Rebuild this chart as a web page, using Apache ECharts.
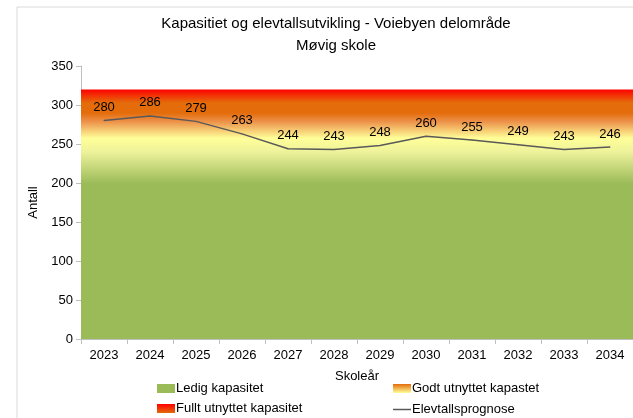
<!DOCTYPE html>
<html>
<head>
<meta charset="utf-8">
<script src="https://cdn.jsdelivr.net/npm/echarts@6/dist/echarts.min.js"></script>
<style>
  html, body { margin: 0; padding: 0; background: #fff; }
  #chart { width: 633px; height: 418px; }
</style>
</head>
<body>
<div id="chart"></div>
<script>
const years = ['2023', '2024', '2025', '2026', '2027', '2028', '2029', '2030', '2031', '2032', '2033', '2034']
const prognose = [280, 286, 279, 263, 244, 243, 248, 260, 255, 249, 243, 246]
// capacity bands: bottom and top of each band
const bandX = [0, 1]
const bandNames = ['Ledig kapasitet', 'Godt utnyttet kapastet', 'Fullt utnyttet kapasitet']
const bandBottom = [0, 200, 290]
const bandTop = [200, 290, 320]

const font = 'Liberation Sans'
const green = '#9bbb59'

const godtGrad = new echarts.graphic.LinearGradient(0, 0, 0, 1, [
  { offset: 0, color: '#e46c0a' },
  { offset: 0.12, color: '#ec9048' },
  { offset: 0.36, color: '#ffff99' },
  { offset: 0.55, color: '#eef29a' },
  { offset: 1, color: green }
])
const fulltGrad = new echarts.graphic.LinearGradient(0, 0, 0, 1, [
  { offset: 0, color: '#ff0000' },
  { offset: 0.55, color: '#e46c0a' },
  { offset: 1, color: '#e46c0a' }
])
const bandColors = [green, godtGrad, fulltGrad]

const legGodt = new echarts.graphic.LinearGradient(0, 0, 0, 1, [
  { offset: 0, color: '#e46c0a' },
  { offset: 1, color: '#ffff99' }
])
const legFullt = new echarts.graphic.LinearGradient(0, 0, 0, 1, [
  { offset: 0, color: '#ff0000' },
  { offset: 1, color: '#e46c0a' }
])

// upper bands reach 1 unit under the band below so no seam shows between them
const bandSeries = bandNames.map((name, i) => ({
  name: name,
  type: 'line',
  xAxisIndex: 1,
  data: bandX.map(x => [x, bandTop[i]]),
  symbol: 'none',
  lineStyle: { width: 0 },
  itemStyle: { color: bandColors[i] },
  areaStyle: { color: bandColors[i], opacity: 1, origin: i ? bandBottom[i] - 1 : 0 },
  silent: true,
  z: 4 - i
}))

const legendText = { fontFamily: font, fontSize: 13, color: '#000', padding: [0, 0, 0, -4] }
const oneLegend = (left, top, item, h) => ({
  left: left,
  top: top,
  itemWidth: 18,
  itemHeight: h || 9,
  textStyle: legendText,
  selectedMode: false,
  data: [item]
})

const chart = echarts.init(document.getElementById('chart'))
chart.setOption({
  animation: false,
  textStyle: { fontFamily: font },
  graphic: [{
    type: 'rect',
    shape: { x: 17, y: 7, width: 640, height: 430 },
    style: { fill: 'none', stroke: '#d9d9d9', lineWidth: 1 },
    silent: true
  }],
  title: {
    text: 'Kapasitiet og elevtallsutvikling - Voiebyen delområde\nMøvig skole',
    left: 331,
    textAlign: 'center',
    top: 8,
    textStyle: { fontFamily: font, fontSize: 15, fontWeight: 'normal', color: '#000', lineHeight: 22 }
  },
  legend: [
    oneLegend(152, 377, { name: 'Ledig kapasitet', icon: 'rect', itemStyle: { color: green } }),
    oneLegend(152, 397, { name: 'Fullt utnyttet kapasitet', icon: 'rect', itemStyle: { color: legFullt } }),
    oneLegend(388, 377, { name: 'Godt utnyttet kapastet', icon: 'rect', itemStyle: { color: legGodt } }),
    oneLegend(388, 398, { name: 'Elevtallsprognose', icon: 'rect', itemStyle: { color: '#595959' } }, 1.5)
  ],
  grid: { left: 81, top: 66, width: 568, height: 273 },
  xAxis: [{
    type: 'category',
    data: years,
    name: 'Skoleår',
    nameLocation: 'middle',
    nameGap: 31,
    nameTextStyle: { fontFamily: font, fontSize: 13, color: '#000' },
    axisLine: { lineStyle: { color: '#bfbfbf' } },
    axisTick: { show: true, length: 5, lineStyle: { color: '#bfbfbf' } },
    axisLabel: { fontFamily: font, fontSize: 13, color: '#000', margin: 10 }
  }, {
    type: 'value',
    min: 0,
    max: 1,
    show: false
  }],
  yAxis: {
    type: 'value',
    min: 0,
    max: 350,
    interval: 50,
    name: 'Antall',
    nameLocation: 'middle',
    nameGap: 36,
    nameTextStyle: { fontFamily: font, fontSize: 13, color: '#000' },
    axisLine: { show: true, lineStyle: { color: '#bfbfbf' } },
    axisTick: { show: true, length: 5, lineStyle: { color: '#bfbfbf' } },
    axisLabel: { fontFamily: font, fontSize: 13, color: '#000', margin: 8 },
    splitLine: { show: false }
  },
  series: bandSeries.concat([{
    name: 'Elevtallsprognose',
    type: 'line',
    data: prognose,
    symbol: 'circle',
    symbolSize: 1,
    showSymbol: true,
    z: 5,
    lineStyle: { color: '#595959', width: 1.5 },
    itemStyle: { color: '#595959' },
    label: {
      show: true,
      position: 'top',
      distance: 6,
      fontFamily: font,
      fontSize: 13,
      color: '#000'
    }
  }])
})
</script>
</body>
</html>
